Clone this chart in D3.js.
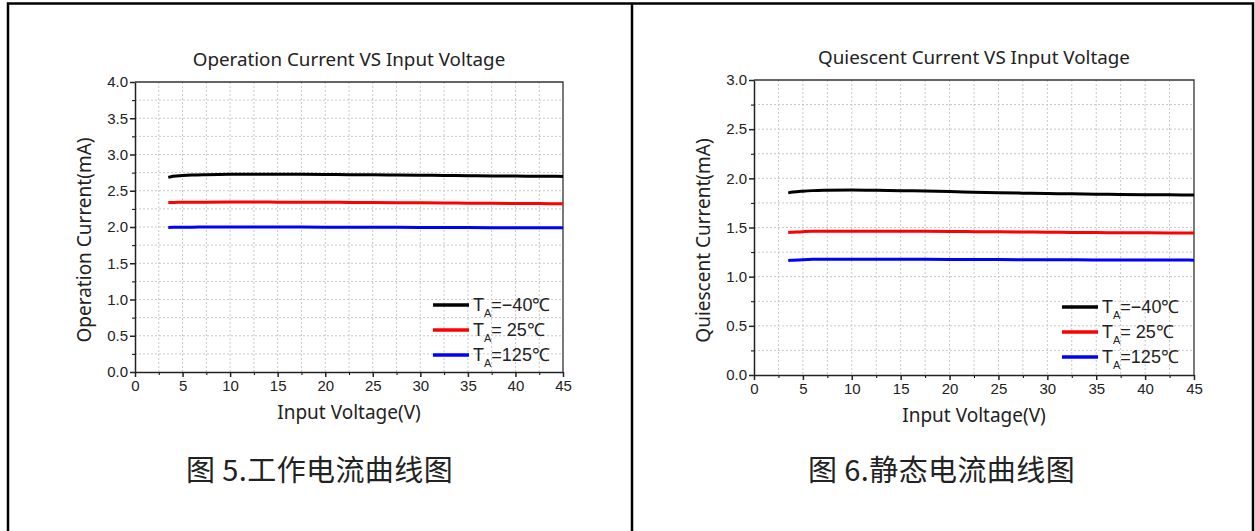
<!DOCTYPE html>
<html lang="zh">
<head>
<meta charset="UTF-8">
<script src="https://d3js.org/d3.v7.min.js"></script>
<title>电流曲线图</title>
<style>
  body { margin: 0; background: #fff; }
  svg text { font-family: "Liberation Sans", Arial, sans-serif; fill: #222; }
  .lab { font-family: "Noto Sans", sans-serif; }
  .cap { font-family: "Noto Sans CJK SC", sans-serif; }
</style>
</head>
<body>
<div id="chart"></div>
<script>
// input voltage (V), shared by both charts
var voltage = [3.5, 4, 5, 6, 7.5, 10, 12.5, 15, 17.5, 20, 22.5, 25, 27.5, 30, 32.5, 35, 37.5, 40, 42.5, 45];

// operation current (mA)
var opM40 = [2.685, 2.700, 2.710, 2.717, 2.722, 2.727, 2.728, 2.728, 2.727, 2.725, 2.722, 2.720, 2.717, 2.714, 2.711, 2.708, 2.705, 2.703, 2.700, 2.698];
var op25  = [2.338, 2.339, 2.341, 2.342, 2.343, 2.344, 2.344, 2.343, 2.342, 2.341, 2.339, 2.337, 2.335, 2.333, 2.331, 2.329, 2.327, 2.325, 2.323, 2.321];
var op125 = [1.993, 1.995, 1.997, 1.998, 1.999, 2.000, 2.000, 2.000, 1.999, 1.998, 1.997, 1.996, 1.995, 1.994, 1.993, 1.992, 1.991, 1.990, 1.989, 1.988];

// quiescent current (mA)
var qM40 = [1.852, 1.860, 1.869, 1.875, 1.879, 1.882, 1.879, 1.874, 1.871, 1.866, 1.859, 1.853, 1.849, 1.845, 1.842, 1.839, 1.836, 1.834, 1.832, 1.830];
var q25  = [1.449, 1.452, 1.458, 1.462, 1.463, 1.463, 1.462, 1.462, 1.461, 1.460, 1.458, 1.456, 1.454, 1.452, 1.450, 1.448, 1.447, 1.446, 1.445, 1.444];
var q125 = [1.165, 1.168, 1.173, 1.176, 1.177, 1.177, 1.177, 1.176, 1.176, 1.175, 1.175, 1.174, 1.173, 1.172, 1.171, 1.170, 1.170, 1.169, 1.169, 1.168];

var legendText = ["=\u221240\u2103", "= 25\u2103", "=125\u2103"];
var seriesColors = ["#000000", "#ff0000", "#0000ff"];
var xTicks = [0, 5, 10, 15, 20, 25, 30, 35, 40, 45];

var W = 1255, H = 531;

var svg = d3.select("#chart")
  .append("svg")
  .attr("width", W)
  .attr("height", H);

// outer frame + divider
svg.append("path")
  .attr("d", "M8," + H + "V3.5H1253V" + H + "M632,3.5V" + H)
  .attr("fill", "none")
  .attr("stroke", "#000")
  .attr("stroke-width", 2.5);

function drawChart(o) {
  var x = d3.scaleLinear().domain([0, 45]).range([o.left, o.right]);
  var y = d3.scaleLinear().domain([0, o.ymax]).range([o.bottom, o.top]);
  var g = svg.append("g");

  // dotted grid on every minor step
  var xMinor = d3.range(2.5, 45, 2.5);
  var yMinor = d3.range(0.25, o.ymax, 0.25);
  g.selectAll(".gx").data(xMinor).enter().append("line")
    .attr("x1", function (d) { return x(d); }).attr("x2", function (d) { return x(d); })
    .attr("y1", o.top).attr("y2", o.bottom)
    .attr("stroke", "#c8c8c8").attr("stroke-width", 1).attr("stroke-dasharray", "2,2");
  g.selectAll(".gy").data(yMinor).enter().append("line")
    .attr("x1", o.left).attr("x2", o.right)
    .attr("y1", function (d) { return y(d); }).attr("y2", function (d) { return y(d); })
    .attr("stroke", "#c8c8c8").attr("stroke-width", 1).attr("stroke-dasharray", "2,2");

  // minor ticks
  g.append("g").attr("transform", "translate(0," + o.bottom + ")")
    .call(d3.axisBottom(x).tickValues(d3.range(2.5, 45, 5)).tickSize(3).tickFormat(""))
    .call(function (s) { s.select(".domain").remove(); });
  g.append("g").attr("transform", "translate(" + o.left + ",0)")
    .call(d3.axisLeft(y).tickValues(d3.range(0.25, o.ymax, 0.5)).tickSize(3).tickFormat(""))
    .call(function (s) { s.select(".domain").remove(); });

  // major axes
  var xa = g.append("g").attr("transform", "translate(0," + o.bottom + ")")
    .call(d3.axisBottom(x).tickValues(xTicks).tickSize(5).tickSizeOuter(0).tickPadding(3));
  var ya = g.append("g").attr("transform", "translate(" + o.left + ",0)")
    .call(d3.axisLeft(y).tickValues(d3.range(0, o.ymax + 0.01, 0.5)).tickSize(5).tickSizeOuter(0)
      .tickPadding(2).tickFormat(d3.format(".1f")));
  [xa, ya].forEach(function (a) {
    a.selectAll("text").style("font-size", "15px").attr("fill", "#222");
    a.selectAll("line, path").attr("stroke", "#222").attr("stroke-width", 1.5);
  });

  // top and right frame
  g.append("path")
    .attr("d", "M" + o.left + "," + o.top + "H" + o.right + "V" + o.bottom)
    .attr("fill", "none").attr("stroke", "#333").attr("stroke-width", 1.3);

  // curves
  var line = d3.line()
    .x(function (d) { return x(d[0]); })
    .y(function (d) { return y(d[1]); })
    .curve(d3.curveMonotoneX);
  o.series.forEach(function (s, i) {
    g.append("path")
      .datum(voltage.map(function (v, k) { return [v, s[k]]; }))
      .attr("d", line)
      .attr("fill", "none")
      .attr("stroke", seriesColors[i])
      .attr("stroke-width", 3);
  });

  // legend
  o.series.forEach(function (s, i) {
    var ly = o.legendY + i * 25;
    g.append("line")
      .attr("x1", o.legendX).attr("x2", o.legendX + 36)
      .attr("y1", ly).attr("y2", ly)
      .attr("stroke", seriesColors[i]).attr("stroke-width", 3.5);
    var t = g.append("text")
      .attr("x", o.legendX + 40).attr("y", ly + 6)
      .style("font-size", "18px");
    t.append("tspan").text("T");
    t.append("tspan").text("A").style("font-size", "11px").attr("dy", 6);
    t.append("tspan").text(legendText[i]).attr("dy", -6);
  });

  // titles
  g.append("text").attr("class", "lab")
    .attr("x", (o.left + o.right) / 2).attr("y", o.top - 16)
    .attr("text-anchor", "middle").style("font-size", "18.8px")
    .text(o.title);
  g.append("text").attr("class", "lab")
    .attr("x", (o.left + o.right) / 2).attr("y", o.bottom + 47)
    .attr("text-anchor", "middle").style("font-size", "19px")
    .text("Input Voltage(V)");
  g.append("text").attr("class", "lab")
    .attr("transform", "translate(" + (o.left - 44) + "," + ((o.top + o.bottom) / 2 + 13) + ") rotate(-90)")
    .attr("text-anchor", "middle").style("font-size", "19px")
    .text(o.ylabel);

  // figure caption
  g.append("text").attr("class", "cap")
    .attr("x", o.capX).attr("y", 481)
    .style("font-size", "29px")
    .style("letter-spacing", "0.4px")
    .text(o.caption);
}

drawChart({
  left: 135, right: 563, top: 82, bottom: 372, ymax: 4,
  series: [opM40, op25, op125],
  title: "Operation Current VS Input Voltage",
  ylabel: "Operation Current(mA)",
  caption: "图 5.工作电流曲线图", capX: 186,
  legendX: 433, legendY: 305
});

drawChart({
  left: 754, right: 1194, top: 80, bottom: 375, ymax: 3,
  series: [qM40, q25, q125],
  title: "Quiescent Current VS Input Voltage",
  ylabel: "Quiescent Current(mA)",
  caption: "图 6.静态电流曲线图", capX: 808,
  legendX: 1062, legendY: 307
});
</script>
</body>
</html>
